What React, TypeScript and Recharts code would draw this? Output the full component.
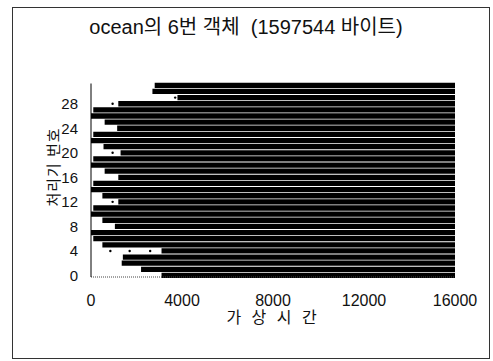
import React from 'react';
import { ComposedChart, Line, Scatter, XAxis, YAxis, Customized } from 'recharts';

// processor numbers 0..31 and the virtual time each one's bar starts
const processors = [
  0, 1, 2, 3, 4, 5, 6, 7, 8, 9, 10, 11, 12, 13, 14, 15,
  16, 17, 18, 19, 20, 21, 22, 23, 24, 25, 26, 27, 28, 29, 30, 31,
];
const startTimes = [
  3100, 2200, 1350, 1400, 3100, 500, 100, 0, 1050, 500, 0, 100, 1200, 500, 0, 100,
  1200, 600, 0, 100, 1300, 550, 0, 100, 1150, 600, 0, 100, 1200, 3800, 2700, 2800,
];
const endTimes = [
  16000, 16000, 16000, 16000, 16000, 16000, 16000, 16000, 16000, 16000, 16000, 16000, 16000, 16000, 16000, 16000,
  16000, 16000, 16000, 16000, 16000, 16000, 16000, 16000, 16000, 16000, 16000, 16000, 16000, 16000, 16000, 16000,
];
// isolated events before the bars
const dotTimes = [850, 1700, 2600, 950, 950, 950, 3700];
const dotProcs = [4, 4, 4, 28, 20, 12, 29];

const xTicks = [0, 4000, 8000, 12000, 16000];
const yTicks = [0, 4, 8, 12, 16, 20, 24, 28];

const titleText = 'ocean의 6번 객체  (1597544 바이트)';
const xLabel = '가 상  시 간';
const yLabel = '처리기 번호';

const rows = processors.map((p, i) => [
  { t: startTimes[i], p },
  { t: endTimes[i], p },
]);
const dots = dotTimes.map((t, i) => ({ t, p: dotProcs[i] }));

const numFont = "'Liberation Sans', Arial, sans-serif";
const krFont = "'Liberation Sans', 'Noto Sans CJK KR', sans-serif";

const Texts = () => (
  <g>
    <text x={246} y={34} textAnchor="middle" fontSize={20} fontFamily={krFont} fill="#111" style={{ whiteSpace: 'pre' }}>
      {titleText}
    </text>
    <text
      x={0}
      y={0}
      transform="translate(59,167) rotate(-90)"
      textAnchor="middle"
      fontSize={15}
      fontFamily={krFont}
      fill="#111"
      letterSpacing={1}
      style={{ whiteSpace: 'pre' }}
    >
      {yLabel}
    </text>
  </g>
);

export default function App() {
  return (
    <div style={{ position: 'absolute', left: 0, top: 0, width: 493, height: 361, background: '#fff' }}>
      <div
        style={{
          position: 'absolute',
          left: 12,
          top: 7,
          width: 478,
          height: 352,
          border: '1px solid #333',
          boxSizing: 'border-box',
        }}
      />
      <div style={{ position: 'absolute', left: 0, top: 0 }}>
        <ComposedChart width={493} height={361} margin={{ top: 83.5, right: 38, bottom: 38, left: 51 }}>
          <XAxis
            type="number"
            dataKey="t"
            domain={[0, 16000]}
            ticks={xTicks}
            tickLine={false}
            tickSize={0}
            tickMargin={18}
            height={46}
            axisLine={{ stroke: '#444', strokeDasharray: '1 1' }}
            tick={{ fontSize: 16, fontFamily: numFont, fill: '#111' }}
            label={{
              value: xLabel,
              position: 'insideBottom',
              offset: 0,
              style: { fontSize: 16, fontFamily: krFont, fill: '#111', whiteSpace: 'pre', letterSpacing: 3 },
            }}
          />
          <YAxis
            type="number"
            dataKey="p"
            domain={[-0.25, 31.3]}
            ticks={yTicks}
            tickLine={false}
            tickSize={0}
            tickMargin={13}
            width={40}
            axisLine={{ stroke: '#000' }}
            tick={{ fontSize: 15, fontFamily: numFont, fill: '#111' }}
          />
          {rows.map((r, i) => (
            <Line
              key={i}
              data={r}
              dataKey="p"
              stroke="#000"
              strokeWidth={5.3}
              strokeLinecap="butt"
              dot={false}
              activeDot={false}
              isAnimationActive={false}
            />
          ))}
          <Scatter
            data={dots}
            fill="#000"
            isAnimationActive={false}
            shape={(s: any) => <circle cx={s.cx} cy={s.cy} r={1.2} fill="#000" />}
          />
          <Customized component={Texts} />
        </ComposedChart>
      </div>
    </div>
  );
}
